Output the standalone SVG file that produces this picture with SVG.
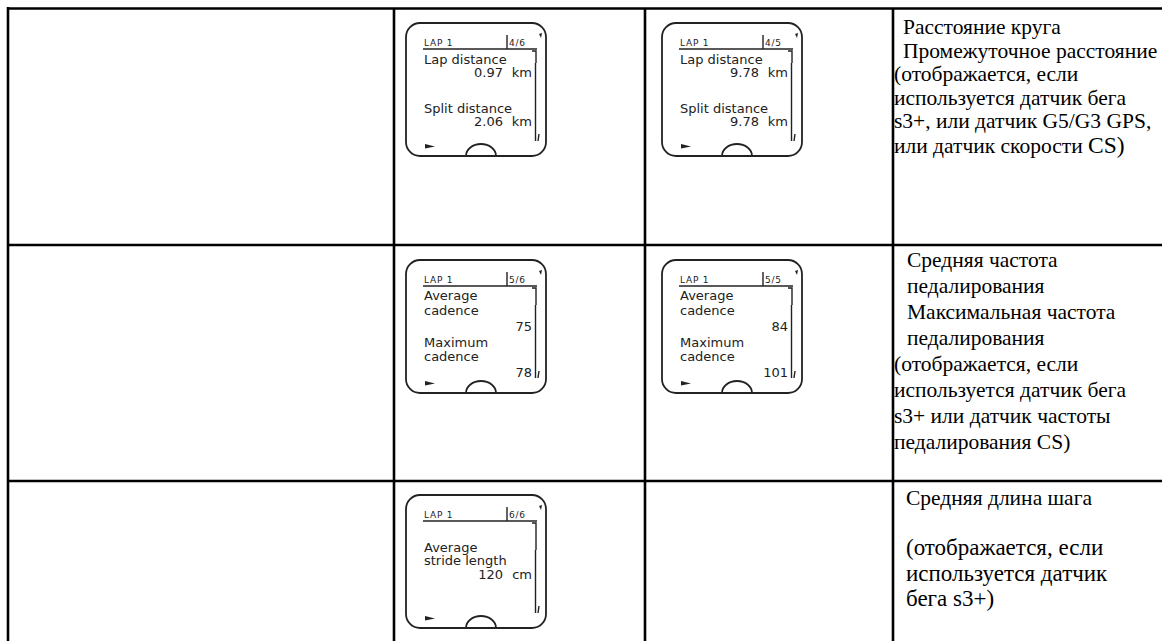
<svg xmlns="http://www.w3.org/2000/svg" width="1162" height="641" viewBox="0 0 1162 641">
<style>
.grid{stroke:#000;stroke-width:2.6;fill:none}
.frame{fill:none;stroke:#222;stroke-width:1.8}
.thin{fill:none;stroke:#222;stroke-width:1.4}
.mark{fill:#222}
.hdr{font-family:"DejaVu Sans",sans-serif;font-size:9px;fill:#222;letter-spacing:0.8px}
.lcd{font-family:"DejaVu Sans",sans-serif;font-size:13px;fill:#222}
.num{font-family:"DejaVu Sans",sans-serif;font-size:13px;fill:#222;text-anchor:end}
.desc{font-family:"Liberation Serif","Times New Roman",serif;font-size:21.5px;fill:#000}
.big{font-size:23px}
</style>
<defs>
<g id="frame">
 <rect class="frame" x="0" y="0" width="140" height="133" rx="14"/>
 <path class="frame" d="M60,133 A15,12 0 0 1 90,133"/>
 <polygon class="mark" points="19,121 29,123.5 19,125.5"/>
 <line class="thin" x1="17" y1="26" x2="131" y2="26"/>
 <line class="thin" x1="101" y1="12" x2="101" y2="26"/>
 <path class="mark" d="M133,11 L136,10 L135,15 Z"/>
 <path class="thin" d="M133,111 L132,118"/>
</g>
</defs>

<g id="grid">
 <path class="grid" d="M7,8.5 H1162 M8,7 V641 M394,8 V641 M645,8 V641 M893,8 V641 M8,245 H1162 M8,481 H1162"/>
</g>

<g id="screen-r1-1" transform="translate(406,23)">
 <use href="#frame"/>
 <path class="thin" d="M126,28 H130 V40 M129.5,40 V118"/>
 <text class="hdr" x="18" y="23">LAP 1</text><text class="hdr" x="103" y="23">4/6</text>
 <text class="lcd" x="18" y="41">Lap distance</text>
 <text class="num" x="97" y="54">0.97</text><text class="num" x="126" y="54">km</text>
 <text class="lcd" x="18" y="90">Split distance</text>
 <text class="num" x="97" y="103">2.06</text><text class="num" x="126" y="103">km</text>
</g>

<g id="screen-r1-2" transform="translate(662,23)">
 <use href="#frame"/>
 <path class="thin" d="M126,28 H130 V40 M129.5,40 V118"/>
 <text class="hdr" x="18" y="23">LAP 1</text><text class="hdr" x="103" y="23">4/5</text>
 <text class="lcd" x="18" y="41">Lap distance</text>
 <text class="num" x="97" y="54">9.78</text><text class="num" x="126" y="54">km</text>
 <text class="lcd" x="18" y="90">Split distance</text>
 <text class="num" x="97" y="103">9.78</text><text class="num" x="126" y="103">km</text>
</g>

<g id="screen-r2-1" transform="translate(406,260)">
 <use href="#frame"/>
 <path class="thin" d="M126,28 H130 V45 M129.5,45 V118"/>
 <text class="hdr" x="18" y="23">LAP 1</text><text class="hdr" x="103" y="23">5/6</text>
 <text class="lcd" x="18" y="40">Average</text>
 <text class="lcd" x="18" y="55">cadence</text>
 <text class="num" x="126" y="71">75</text>
 <text class="lcd" x="18" y="87">Maximum</text>
 <text class="lcd" x="18" y="101">cadence</text>
 <text class="num" x="126" y="117">78</text>
</g>

<g id="screen-r2-2" transform="translate(662,260)">
 <use href="#frame"/>
 <path class="thin" d="M126,28 H130 V45 M129.5,45 V118"/>
 <text class="hdr" x="18" y="23">LAP 1</text><text class="hdr" x="103" y="23">5/5</text>
 <text class="lcd" x="18" y="40">Average</text>
 <text class="lcd" x="18" y="55">cadence</text>
 <text class="num" x="126" y="71">84</text>
 <text class="lcd" x="18" y="87">Maximum</text>
 <text class="lcd" x="18" y="101">cadence</text>
 <text class="num" x="126" y="117">101</text>
</g>

<g id="screen-r3-1" transform="translate(406,495)">
 <use href="#frame"/>
 <path class="thin" d="M126,28 H130 V55 M129.5,55 V118"/>
 <text class="hdr" x="18" y="23">LAP 1</text><text class="hdr" x="103" y="23">6/6</text>
 <text class="lcd" x="18" y="57">Average</text>
 <text class="lcd" x="18" y="70">stride length</text>
 <text class="num" x="97" y="84">120</text><text class="num" x="126" y="84">cm</text>
</g>

<g id="desc-r1">
 <text class="desc" x="903" y="34">Расстояние круга</text>
 <text class="desc" x="903" y="57.5">Промежуточное расстояние</text>
 <text class="desc" x="894" y="81">(отображается, если</text>
 <text class="desc" x="894" y="104.5">используется датчик бега</text>
 <text class="desc" x="894" y="128">s3+, или датчик G5/G3 GPS,</text>
 <text class="desc" x="894" y="153">или датчик скорости <tspan font-size="23.5">CS)</tspan></text>
</g>

<g id="desc-r2">
 <text class="desc" x="907" y="267">Средняя частота</text>
 <text class="desc" x="907" y="293">педалирования</text>
 <text class="desc" x="907" y="319">Максимальная частота</text>
 <text class="desc" x="907" y="345">педалирования</text>
 <text class="desc" x="894" y="371">(отображается, если</text>
 <text class="desc" x="894" y="397">используется датчик бега</text>
 <text class="desc" x="894" y="423">s3+ или датчик частоты</text>
 <text class="desc" x="894" y="449">педалирования CS)</text>
</g>

<g id="desc-r3">
 <text class="desc" x="906" y="505">Средняя длина шага</text>
 <text class="desc big" x="906" y="555">(отображается, если</text>
 <text class="desc big" x="906" y="580.5">используется датчик</text>
 <text class="desc big" x="906" y="606">бега s3+)</text>
</g>
</svg>
